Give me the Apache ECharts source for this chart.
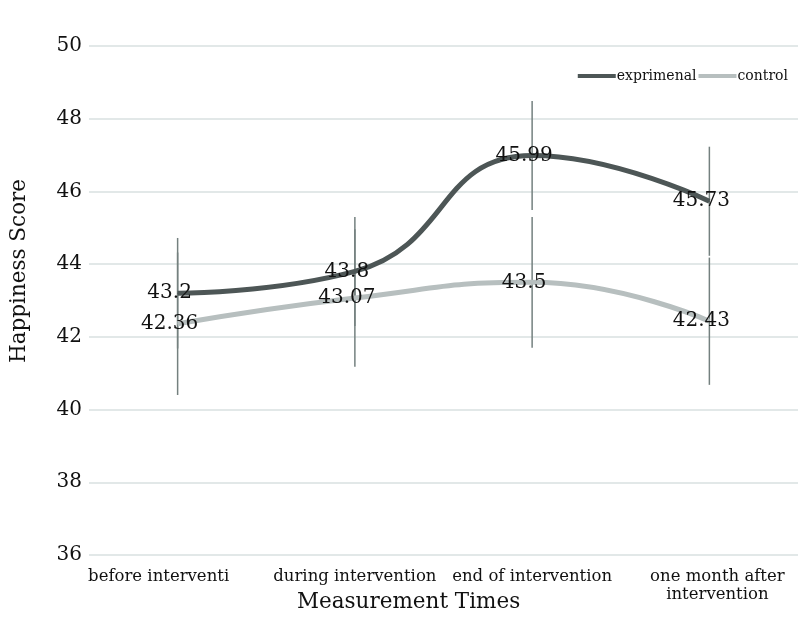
<!DOCTYPE html>
<html>
<head>
<meta charset="utf-8">
<script src="https://cdn.jsdelivr.net/npm/echarts@6/dist/echarts.min.js"></script>
<style>
html,body{margin:0;padding:0;background:#fff;}
#chart{width:801px;height:630px;}
</style>
</head>
<body>
<div id="chart"></div>
<script>
const categories = ['before interventi', 'during intervention', 'end of intervention', 'one month after\nintervention'];
const expValues = [43.2, 43.8, 46.99, 45.73];
const expLabels = ['43.2', '43.8', '45.99', '45.73'];
const ctlValues = [42.36, 43.07, 43.5, 42.43];
const ctlLabels = ['42.36', '43.07', '43.5', '42.43'];
const expErr = [1.52, 1.5, 1.5, 1.5];
const ctlErr = [1.96, 1.89, 1.8, 1.75];
const yMin = 36, yMax = 50, yStep = 2;

const FONT = 'DejaVu Serif';
const chart = echarts.init(document.getElementById('chart'), null, {renderer: 'canvas'});

function errData(vals, errs) {
  return vals.map((v, i) => [i, v - errs[i], v + errs[i]]);
}
function renderErr(params, api) {
  const lo = api.coord([api.value(0), api.value(1)]);
  const hi = api.coord([api.value(0), api.value(2)]);
  return {
    type: 'line',
    shape: {x1: lo[0], y1: lo[1], x2: hi[0], y2: hi[1]},
    style: {stroke: '#74807f', lineWidth: 1.5}
  };
}
function lineSeries(name, vals, labels, color) {
  return {
    name: name,
    type: 'line',
    data: vals,
    smooth: true,
    symbol: 'circle',
    symbolSize: 1,
    showSymbol: true,
    z: 3,
    itemStyle: {color: color},
    lineStyle: {color: color, width: 5},
    emphasis: {disabled: true},
    label: {
      show: true,
      position: 'inside',
      offset: [-8, 0],
      formatter: p => labels[p.dataIndex],
      fontFamily: FONT,
      fontSize: 20,
      color: '#111'
    }
  };
}

chart.setOption({
  animation: false,
  backgroundColor: '#ffffff',
  grid: {left: 89, right: 3, top: 46, bottom: 75},
  legend: {
    right: 8, top: 64,
    icon: 'rect', itemWidth: 38, itemHeight: 4, itemGap: 2,
    textStyle: {fontFamily: FONT, fontSize: 14, color: '#111', padding: [0, 0, 0, -4]},
    data: ['exprimenal', 'control']
  },
  title: {
    text: 'Measurement Times',
    left: 297, top: 591,
    padding: 0,
    textStyle: {fontFamily: FONT, fontSize: 21.5, fontWeight: 'normal', color: '#111'}
  },
  graphic: [{
    type: 'text',
    x: 19, y: 271,
    rotation: Math.PI / 2,
    style: {
      text: 'Happiness Score',
      font: '21.5px "DejaVu Serif"',
      fill: '#111',
      align: 'center',
      verticalAlign: 'middle'
    }
  }],
  xAxis: {
    type: 'category',
    data: categories,
    boundaryGap: true,
    axisLine: {show: false},
    axisTick: {show: false},
    axisLabel: {
      fontFamily: FONT, fontSize: 16.5, lineHeight: 18, color: '#111', margin: 13, interval: 0,
      formatter: (v, i) => i === 0 ? '{first|' + v + '}' : (i === 3 ? '{last|' + v.split('\n').join('}\n{last|') + '}' : v),
      rich: {
        first: {fontFamily: FONT, fontSize: 16.5, lineHeight: 18, color: '#111', padding: [0, 38, 0, 0]},
        last: {fontFamily: FONT, fontSize: 16.5, lineHeight: 18, color: '#111', padding: [0, 0, 0, 16]}
      }
    }
  },
  yAxis: {
    type: 'value',
    min: yMin, max: yMax, interval: yStep,
    axisLine: {show: false},
    axisTick: {show: false},
    axisLabel: {fontFamily: FONT, fontSize: 20, color: '#111', margin: 7},
    splitLine: {lineStyle: {color: '#e2e8e8', width: 2}}
  },
  series: [
    {type: 'custom', name: 'expErr', renderItem: renderErr, data: errData(expValues, expErr), z: 2, silent: true},
    {type: 'custom', name: 'ctlErr', renderItem: renderErr, data: errData(ctlValues, ctlErr), z: 2, silent: true},
    lineSeries('exprimenal', expValues, expLabels, '#4d5656'),
    lineSeries('control', ctlValues, ctlLabels, '#b7bfbf')
  ]
});
</script>
</body>
</html>
